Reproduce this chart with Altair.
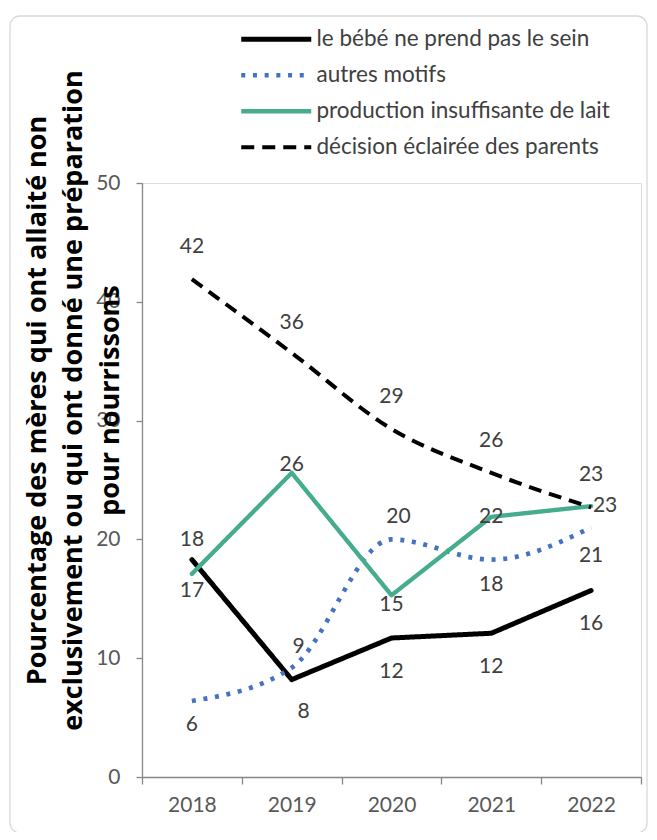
import altair as alt
import pandas as pd

# ---------------- data ----------------
years = ["2018", "2019", "2020", "2021", "2022"]
series_names = [
    "le bébé ne prend pas le sein",
    "autres motifs",
    "production insuffisante de lait",
    "décision éclairée des parents",
]
bebe = [18.3, 8.2, 11.7, 12.1, 15.7]
autres = [6.4, 9.2, 20.0, 18.3, 21.0]
production = [17.1, 25.6, 15.3, 21.9, 22.8]
decision = [41.9, 35.7, 29.3, 25.6, 22.7]
y_ticks = [0, 10, 20, 30, 40, 50]
y_title = [
    "Pourcentage des mères qui ont allaité non",
    "exclusivement ou qui ont donné une préparation",
    "pour nourrissons",
]

# ---------------- style ----------------
colors = ["#000000", "#4472C4", "#45AD8E", "#000000"]
dashes = [[1, 0], [4, 7.7], [1, 0], [13, 8]]
widths = [5, 4, 5, 5]
interp = ["linear", "monotone", "linear", "monotone"]
caps = ["round", "butt", "round", "butt"]
# label offsets in pixels relative to each point
label_dx = [[0, 12, 0, 0, 0], [0, 7, 7, 0, 0], [0, 0, 0, 0, 14], [0, 0, 0, 0, 0]]
label_dy = [[-20, 32, 34, 34, 34], [24, -21, -22, 25, 28], [17, -8, 10, 0, 0],
            [-32, -30, -32, -32, -32]]

FONT = "Lato"
TITLE_FONT = "Open Sans"
AXIS_COLOR = "#868686"

rows = []
for i, (name, vals) in enumerate(zip(series_names, [bebe, autres, production, decision])):
    for j, (yr, v) in enumerate(zip(years, vals)):
        rows.append(dict(year=yr, value=v, series=name,
                         dx=label_dx[i][j], dy=label_dy[i][j]))
df = pd.DataFrame(rows)

xscale = alt.Scale(type="band", domain=years, paddingInner=0, paddingOuter=0)
yscale = alt.Scale(domain=[0, 50], nice=False)

xaxis = alt.Axis(title=None, labelAngle=0, tickBand="extent", grid=False,
                 domainColor=AXIS_COLOR, tickColor=AXIS_COLOR, tickSize=7,
                 domainWidth=1.3, tickWidth=1.3, zindex=1,
                 labelFont=FONT, labelFontSize=21, labelColor="#595959",
                 labelPadding=10)
yaxis = alt.Axis(values=y_ticks, grid=False, title=y_title,
                 domainColor=AXIS_COLOR, tickColor=AXIS_COLOR, tickSize=6,
                 domainWidth=1.3, tickWidth=1.3, zindex=1,
                 labelFont=FONT, labelFontSize=21, labelColor="#595959",
                 labelPadding=16,
                 titleFont=TITLE_FONT, titleFontSize=27, titleFontWeight="bold",
                 titleColor="#000000", titleLineHeight=36.5,
                 titleAngle=270, titleAlign="center", titleBaseline="top",
                 titleX=-118, titleY=217)

legend = alt.Legend(title=None, orient="none", legendX=123, legendY=-155,
                    symbolType="M-7,0H7", symbolSize=100, labelOffset=29,
                    labelFont=FONT, labelFontSize=22.5, labelColor="#404040",
                    rowPadding=13, labelLimit=400)

enc = dict(
    x=alt.X("year:N", scale=xscale, axis=xaxis),
    y=alt.Y("value:Q", scale=yscale, axis=yaxis),
    color=alt.Color("series:N", scale=alt.Scale(domain=series_names, range=colors),
                    legend=legend),
    strokeDash=alt.StrokeDash("series:N",
                              scale=alt.Scale(domain=series_names, range=dashes),
                              legend=legend),
    strokeWidth=alt.StrokeWidth("series:N",
                                scale=alt.Scale(domain=series_names, range=widths),
                                legend=legend),
)

base = alt.Chart(df)

border = alt.Chart(pd.DataFrame({"k": [0]})).mark_rect(
    fillOpacity=0, stroke="#d9d9d9", strokeWidth=1.3, cornerRadius=10
).encode(x=alt.value(-132), x2=alt.value(505), y=alt.value(-167), y2=alt.value(650))

lines = []
for i, name in enumerate(series_names):
    lines.append(
        base.transform_filter(alt.datum.series == name)
        .mark_line(interpolate=interp[i], strokeCap=caps[i], strokeJoin="round")
        .encode(**enc)
    )

offset_pairs = sorted(set(
    (label_dx[i][j], label_dy[i][j])
    for i in range(len(series_names)) for j in range(len(years))
))
text_layers = []
for dxv, dyv in offset_pairs:
    text_layers.append(
        base.transform_filter((alt.datum.dx == dxv) & (alt.datum.dy == dyv))
        .mark_text(font=FONT, fontSize=21, color="#404040",
                   baseline="middle", align="center", dx=dxv, dy=dyv)
        .encode(
            x=alt.X("year:N", scale=xscale, axis=xaxis),
            y=alt.Y("value:Q", scale=yscale, axis=yaxis),
            text=alt.Text("value:Q", format=".0f"),
        )
    )

chart = alt.layer(border, *lines, *text_layers).properties(
    width=499, height=594,
    padding={"left": 134, "top": 175, "right": 8, "bottom": 55},
    autosize="none",
).configure_view(stroke=None).configure(font=FONT)

chart.save("out.html", embed_options={"renderer": "svg", "actions": False})
